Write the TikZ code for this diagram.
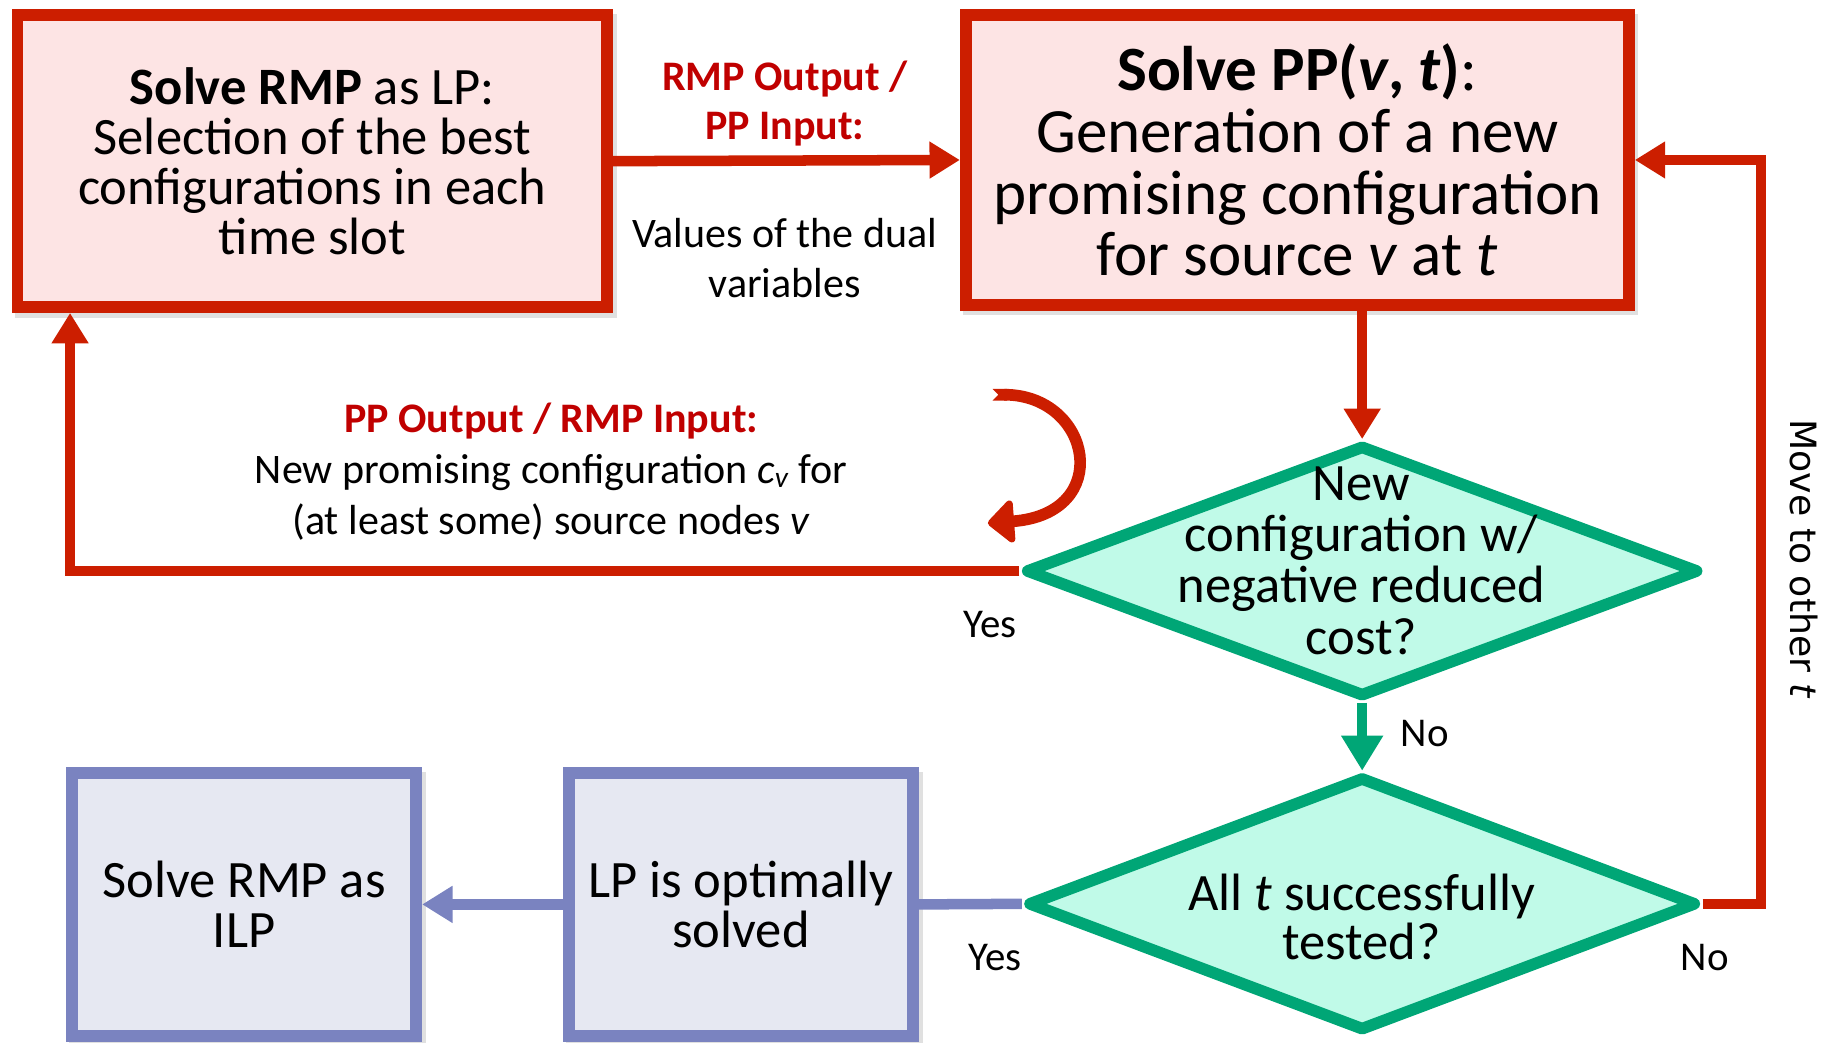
\documentclass[tikz,border=0pt]{standalone}
\usepackage{fontspec}
\setmainfont{Carlito}
\newfontfamily\sidefont{DejaVu Sans}
\usetikzlibrary{arrows.meta,shapes.geometric,calc}

\definecolor{rmpred}{RGB}{204,30,0}
\definecolor{lblred}{RGB}{192,0,0}
\definecolor{rmpfill}{RGB}{253,228,228}
\definecolor{dgreen}{RGB}{0,166,118}
\definecolor{dfill}{RGB}{192,250,232}
\definecolor{bblue}{RGB}{122,131,192}
\definecolor{bfill}{RGB}{230,232,242}

\begin{document}
\begin{tikzpicture}[x=1pt,y=-1pt,
  softshadow/.style={preaction={draw=black, fill=black, opacity=0.12,
                     transform canvas={xshift=3pt,yshift=-4pt}}},
  redbox/.style={softshadow, draw=rmpred, fill=rmpfill, line width=10pt, inner sep=0pt, align=center},
  bluebox/.style={softshadow, draw=bblue, fill=bfill, line width=10pt, inner sep=0pt, align=center,
                  minimum width=295pt, minimum height=225pt,
                  font=\fontsize{45}{43}\selectfont},
  decision/.style={diamond, draw=dgreen, fill=dfill, line width=10pt, line join=round, inner sep=0pt},
  dtext/.style={align=center, inner sep=0pt, font=\fontsize{45}{44}\selectfont},
  redline/.style={draw=rmpred, line width=9pt},
  greenline/.style={draw=dgreen, line width=9pt},
  blueline/.style={draw=bblue, line width=9pt},
  redtip/.style={-{Triangle[width=30pt,length=26pt]}},
  lbl/.style={align=center, inner sep=0pt, font=\fontsize{36}{43}\selectfont},
  yn/.style={inner sep=0pt, font=\fontsize{35}{36}\selectfont},
]
\useasboundingbox (0,0) rectangle (1568,893);

% --- master problem and pricing problem
\node[redbox, minimum width=505pt, minimum height=250pt,
      font=\fontsize{45}{43}\selectfont] (b1) at (267.5,138)
  {\textbf{Solve RMP} as LP:\\Selection of the best\\configurations in each\\time slot};
\node[redbox, minimum width=568pt, minimum height=248pt,
      font=\fontsize{54}{53}\selectfont] (b2) at (1111,137)
  {\textbf{Solve PP(\textit{v}, \textit{t})}:\\Generation of a new\\promising configuration\\for source \textit{v} at \textit{t}};

% --- decisions
\node[decision, minimum width=577pt, minimum height=216pt] (d1) at (1166.5,489) {};
\node[dtext] (d1t) at (1166,480) {New\\configuration w/\\negative reduced\\cost?};
\node[decision, minimum width=573pt, minimum height=218pt] (d2) at (1166.5,774) {};
\node[dtext, font=\fontsize{45}{42}\selectfont] (d2t) at (1166,785) {All \textit{t} successfully\\tested?};

% --- final steps
\node[bluebox] (b3) at (634.5,774.5) {LP is optimally\\solved};
\node[bluebox] (b4) at (209,774.5) {Solve RMP as\\ILP};

% --- connector labels
\node[lbl, text=lblred, font=\bfseries\fontsize{36}{42}\selectfont] (l1) at (672,89) {RMP Output /\\PP Input:};
\node[lbl] (l2) at (672,221) {Values of the dual\\variables};
\node[lbl, font=\fontsize{36}{43.5}\selectfont] (l3) at (472,404)
  {\textcolor{lblred}{\textbf{PP Output / RMP Input:}}\\New promising configuration \textit{c}\textsubscript{\textit{v}} for\\(at least some) source nodes \textit{v}};
\node[yn] (y1) at (848,535) {Yes};
\node[yn] (n1) at (1220,628) {No};
\node[yn] (y2) at (852,820) {Yes};
\node[yn] (n2) at (1460,820) {No};
\node[inner sep=0pt, rotate=-90, font=\sidefont\fontsize{31}{34}\selectfont] (mv) at (1545,479) {Move to other \textit{t}};

% --- connectors
\coordinate (b1in) at ([xshift=50pt]b1.south west);
\coordinate (rturn) at (1508,0);
\coordinate (cstart) at (850,338);
\coordinate (cend) at (846,448);

\draw[redline, redtip] (b1.east) -- (b2.west);
\draw[redline, redtip] (b2.south -| d1.north) -- (d1.north);
\draw[redline, redtip] (d1.west) -| (b1in);
\draw[redline, redtip] (d2.east) -- (d2.east -| rturn) |- (b2.east);
\draw[greenline, -{Triangle[width=34pt,length=30pt]}] (d1.south) -- (d2.north);
\draw[blueline] (d2.west) -- (b3.east);
\draw[blueline, -{Triangle[width=30pt,length=26pt]}] (b3.west) -- (b4.east);
\draw[redline, line width=10pt, {Triangle Cap[reversed]}-{Triangle[width=42pt,length=24pt,round]}]
  (cstart) .. controls (935,338) and (955,440) .. (cend);
\end{tikzpicture}
\end{document}
